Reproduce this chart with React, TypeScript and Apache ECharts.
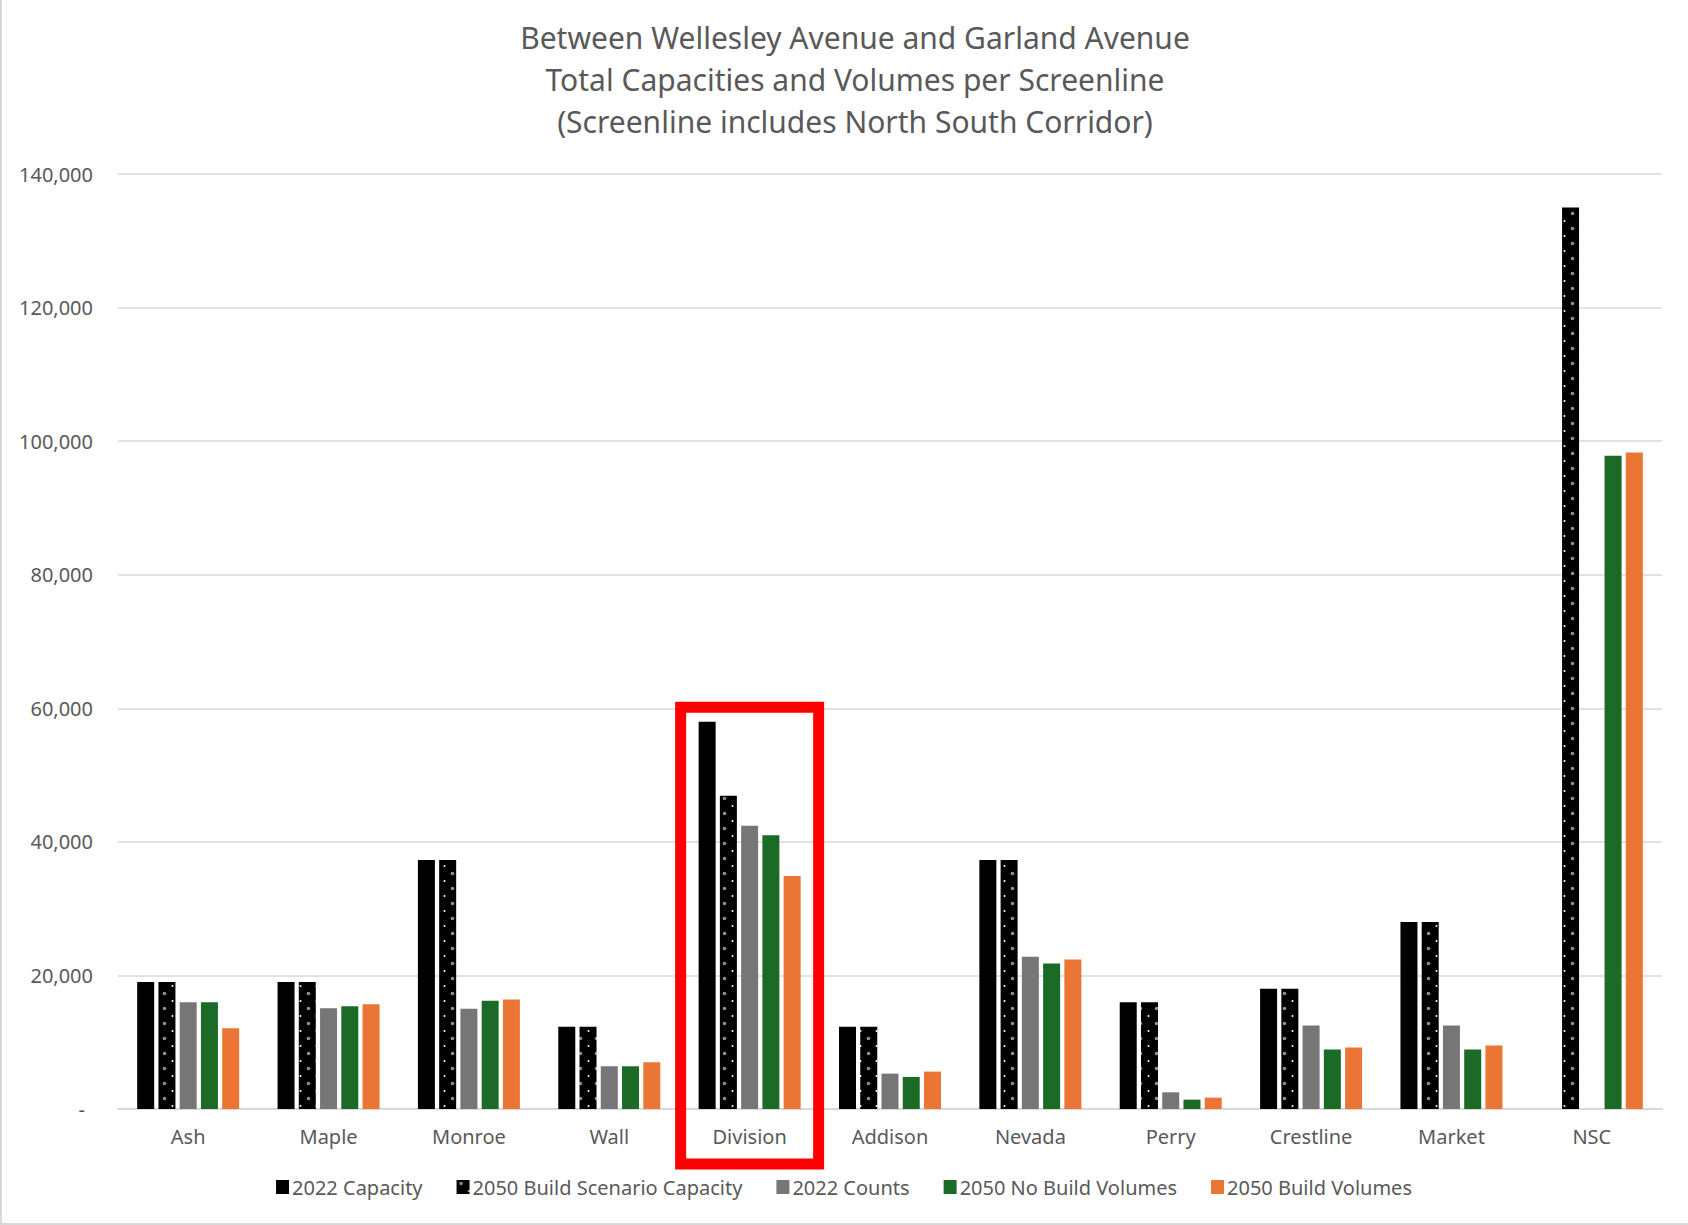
import React, { useEffect, useRef } from "react";
import * as echarts from "echarts";

const categories = ["Ash", "Maple", "Monroe", "Wall", "Division", "Addison", "Nevada", "Perry", "Crestline", "Market", "NSC"];
const capacity2022 = [19000, 19000, 37300, 12300, 58000, 12300, 37300, 16000, 18000, 28000, null];
const buildCapacity2050 = [19000, 19000, 37300, 12300, 46900, 12300, 37300, 16000, 18000, 28000, 135000];
const counts2022 = [16000, 15100, 15000, 6400, 42400, 5300, 22800, 2500, 12500, 12500, null];
const noBuild2050 = [16000, 15400, 16200, 6400, 41000, 4800, 21800, 1400, 8900, 8900, 97800];
const build2050 = [12100, 15700, 16400, 7000, 34900, 5600, 22400, 1700, 9200, 9500, 98300];
const yTicks = { min: 0, max: 140000, interval: 20000 };

const titleLines = [
  "Between Wellesley Avenue and Garland Avenue",
  "Total Capacities and Volumes per Screenline",
  "(Screenline includes North South Corridor)",
];

const FONT = "'Noto Sans', sans-serif";
const TEXT = "#595959";
const GRID = "#d9d9d9";

// Black fill with staggered gray / white dots for the scenario-capacity bars.
function makeDotPattern(): HTMLCanvasElement {
  const c = document.createElement("canvas");
  c.width = 16;
  c.height = 15;
  const ctx = c.getContext("2d")!;
  ctx.fillStyle = "#000";
  ctx.fillRect(0, 0, 16, 15);
  ctx.fillStyle = "#8f8f8f";
  ctx.beginPath();
  ctx.arc(4.5, 3.5, 1.8, 0, Math.PI * 2);
  ctx.fill();
  ctx.fillStyle = "#ffffff";
  ctx.beginPath();
  ctx.arc(12.5, 11, 1, 0, Math.PI * 2);
  ctx.fill();
  return c;
}

export default function App() {
  const ref = useRef<HTMLDivElement>(null);

  useEffect(() => {
    document.body.style.margin = "0";
    const chart = echarts.init(ref.current!, null, { renderer: "svg" });
    const dots = { image: makeDotPattern(), repeat: "repeat" };

    const bar = (name: string, data: (number | null)[], color: any) => ({
      name,
      type: "bar",
      data,
      barWidth: 17,
      barGap: "25%",
      itemStyle: { color },
    });

    chart.setOption({
      animation: false,
      backgroundColor: "#ffffff",
      textStyle: { fontFamily: FONT },
      grid: { left: 118, right: 26, top: 174, bottom: 116 },
      legend: {
        top: 1172,
        left: "center",
        icon: "rect",
        itemWidth: 13,
        itemHeight: 14,
        itemGap: 34,
        textStyle: { color: TEXT, fontSize: 20, fontFamily: FONT, padding: [0, 0, 0, -2] },
      },
      xAxis: {
        type: "category",
        data: categories,
        axisTick: { show: false },
        axisLine: { lineStyle: { color: GRID, width: 2 } },
        axisLabel: { color: TEXT, fontSize: 20, margin: 17, fontFamily: FONT },
      },
      yAxis: {
        type: "value",
        min: yTicks.min,
        max: yTicks.max,
        interval: yTicks.interval,
        axisLine: { show: false },
        axisTick: { show: false },
        splitLine: { lineStyle: { color: GRID, width: 1.5 } },
        axisLabel: {
          color: TEXT,
          fontSize: 20,
          margin: 25,
          fontFamily: FONT,
          formatter: (v: number) => (v === 0 ? "{z|-}" : v.toLocaleString("en-US")),
          rich: { z: { color: TEXT, fontSize: 20, fontFamily: FONT, padding: [0, 8, 0, 0] } },
        },
      },
      series: [
        bar("2022 Capacity", capacity2022, "#000000"),
        bar("2050 Build Scenario Capacity", buildCapacity2050, dots),
        bar("2022 Counts", counts2022, "#767676"),
        bar("2050 No Build Volumes", noBuild2050, "#1b6b26"),
        bar("2050 Build Volumes", build2050, "#ea7534"),
      ],
    });

    // Highlight frame around the Division group, plus title and outer border.
    const cx = chart.convertToPixel({ xAxisIndex: 0 }, "Division") as number;
    const yTop = (chart.convertToPixel({ yAxisIndex: 0 }, 60000) as number) - 1;
    const yBase = chart.convertToPixel({ yAxisIndex: 0 }, 0) as number;
    chart.setOption({
      graphic: [
        {
          type: "text",
          x: 855,
          y: 16,
          style: {
            text: titleLines.join("\n"),
            align: "center",
            verticalAlign: "top",
            lineHeight: 42,
            fontSize: 30,
            fontFamily: FONT,
            fill: TEXT,
          },
        },
        {
          type: "rect",
          shape: { x: cx - 69, y: yTop, width: 138, height: yBase + 55 - yTop },
          style: { fill: "none", stroke: "#ff0000", lineWidth: 11 },
          z: 100,
        },
        {
          type: "line",
          shape: { x1: 1, y1: 0, x2: 1, y2: 1224 },
          style: { stroke: GRID, lineWidth: 2 },
        },
        {
          type: "line",
          shape: { x1: 0, y1: 1224, x2: 1688, y2: 1224 },
          style: { stroke: GRID, lineWidth: 2 },
        },
      ],
    });

    return () => chart.dispose();
  }, []);

  return <div ref={ref} style={{ position: "absolute", left: 0, top: 0, width: 1688, height: 1225 }} />;
}
